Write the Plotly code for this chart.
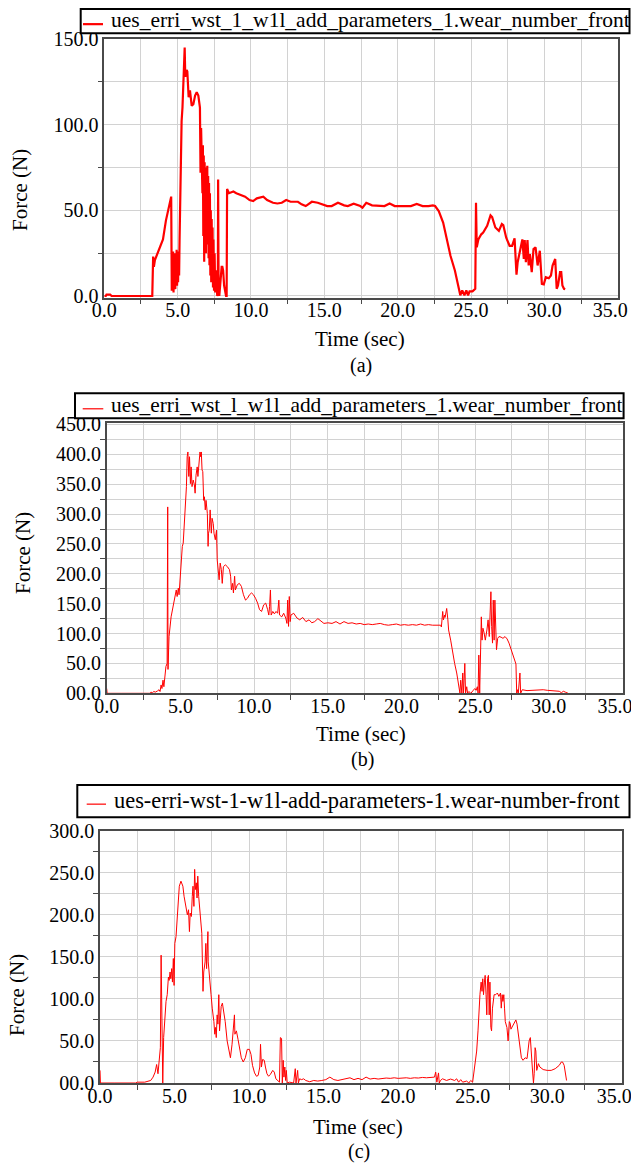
import plotly.graph_objects as go

W, H = 631, 1165
FONT = "Liberation Serif"
RED = "#ff0000"
GRID = "#d2d2d2"
AXIS = "#4a4a4a"

# ---------------- data: panel (a) ----------------
a_time = [0.0, 0.1, 0.15, 0.4, 0.5, 1.5, 2.2, 2.5, 3.27, 3.33, 3.38, 3.45, 3.6, 3.8, 4.0, 4.2, 4.4, 4.5, 4.56,
          4.6, 4.63, 4.66, 4.69, 4.72, 4.75, 4.78, 4.81, 4.84, 4.87, 4.9, 4.93, 4.96, 5.0, 5.03, 5.06, 5.1, 5.13,
          5.16, 5.2, 5.27, 5.33, 5.39, 5.44, 5.48, 5.52, 5.57, 5.61, 5.66, 5.7, 5.75, 5.84, 5.9, 5.96, 6.07, 6.19,
          6.3, 6.41, 6.52, 6.56, 6.6, 6.63, 6.66, 6.69, 6.72, 6.75, 6.78, 6.81, 6.84, 6.87, 6.9, 6.93, 6.96,
          6.99, 7.02, 7.05, 7.08, 7.11, 7.14, 7.17, 7.2, 7.23, 7.26, 7.29, 7.32, 7.35, 7.38, 7.41, 7.44, 7.48,
          7.52, 7.56, 7.6, 7.65, 7.7, 7.74, 7.76, 7.79, 7.84, 7.92, 8.0, 8.05, 8.1,
          8.17, 8.24, 8.3, 8.34, 8.37, 8.5, 8.8, 9.0, 9.3, 9.6, 9.9, 10.15, 10.4, 10.84, 11.1, 11.5, 11.8, 12.1,
          12.4, 12.7, 13.2, 13.45, 13.73, 14.15, 14.55, 14.8, 15.2, 15.5, 15.93, 16.35, 16.6, 17.0, 17.45, 17.6,
          17.86, 18.25, 18.7, 19.1, 19.45, 19.8, 20.3, 20.9, 21.3, 21.7, 22.1, 22.4, 22.55, 22.8, 23.1, 23.36,
          23.6, 23.9, 24.13, 24.27, 24.4, 24.55, 24.68, 24.8, 24.9, 25.1, 25.29, 25.34, 25.39, 25.5, 25.7, 25.83,
          26.1, 26.33, 26.44, 26.66, 26.9, 27.1, 27.2, 27.4, 27.63, 27.8, 27.97, 28.1, 28.18, 28.37, 28.5, 28.6,
          28.66, 28.74, 28.85, 28.93, 29.01, 29.14, 29.26, 29.4, 29.54, 29.69, 29.83, 29.96, 30.1, 30.3, 30.45,
          30.56, 30.74, 30.84, 30.93, 31.07, 31.15, 31.23, 31.34, 31.42]
a_force = [0, 0, 0.8, 0.8, 0, 0, 0.3, 0, 0, 23, 17, 21, 24, 28, 33, 44, 52, 56, 58,
           3, 22, 5, 26, 2, 20, 8, 25, 4, 24, 10, 27, 6, 22, 8, 26, 12, 32,
           52, 75, 102, 110, 122, 135, 145, 128, 131, 132, 131, 126, 116, 120, 114, 111, 112, 117,
           119, 117, 110, 72, 98, 80, 92, 60, 88, 35, 82, 20, 78, 30, 75, 25, 74,
           40, 76, 30, 70, 22, 66, 18, 60, 12, 50, 8, 45, 10, 40, 5, 33, 3,
           25, 2, 15, 0, 0, 2, 68, 6, 0, 10, 17, 17, 15,
           6, 2, 0, 0, 62.5, 60, 61, 60, 59, 58, 56, 55.4, 57, 58, 56, 54.4, 54, 54.4,
           56, 55, 55, 53.5, 52.5, 55, 54.4, 53.5, 52.5, 52.5, 54.4, 52.9, 52.5, 53.9, 52.5, 51.5,
           54.4, 52.9, 52.5, 52.5, 54, 52.5, 52.5, 52.5, 53.7, 52.5, 52.5, 52.9, 52.5, 49.6, 42.9, 33,
           23.5, 14.9, 6, 0.4, 3.3, 0.4, 3.3, 0.4, 2.7, 2.7, 4.2, 54.4, 28.4, 33, 36, 37,
           41, 47, 46, 40, 38, 42, 41.3, 34, 29.3, 29.3, 33.6, 12.4, 19.7, 27.4, 33, 21.6,
           32.6, 19.7, 32.6, 17.8, 24.5, 13.9, 27.4, 28.4, 17.8, 26.4, 7.1, 6.8, 11, 10.4, 12,
           17.8, 21.6, 4.2, 6.2, 13.9, 13.9, 6.2, 4.2, 3.9]

# ---------------- data: panel (b) ----------------
b_time = [0.0, 0.03, 1.0, 2.5, 2.95, 3.0, 3.1, 3.2, 3.3, 3.45, 3.55, 3.62, 3.69, 3.75, 3.82, 3.88, 3.96, 4.02,
          4.1, 4.14, 4.16, 4.23, 4.37, 4.5, 4.64, 4.72, 4.78, 4.86, 4.91, 4.97, 5.05, 5.13, 5.19, 5.27, 5.32,
          5.41, 5.46, 5.51, 5.57, 5.62, 5.68, 5.73, 5.79, 5.87, 5.95, 6.0, 6.06, 6.14, 6.19, 6.28, 6.33, 6.38,
          6.42, 6.47, 6.52, 6.58, 6.63, 6.69, 6.74, 6.83, 6.88, 6.91, 6.96, 7.02, 7.1, 7.15, 7.23, 7.28, 7.37,
          7.45, 7.5, 7.56, 7.63, 7.7, 7.78, 7.84, 7.92, 8.05, 8.19, 8.33, 8.41, 8.46, 8.54, 8.6, 8.68, 8.73,
          8.87, 9.0, 9.14, 9.28, 9.42, 9.55, 9.69, 9.83, 9.96, 10.1, 10.24, 10.37, 10.51, 10.65, 10.79, 10.92,
          11.0, 11.05, 11.11, 11.16, 11.27, 11.38, 11.49, 11.6, 11.68, 11.73, 11.88, 12.01, 12.15, 12.23, 12.28,
          12.34, 12.39, 12.45, 12.5, 12.69, 12.91, 13.1, 13.3, 13.52, 13.73, 13.92, 14.11, 14.33, 14.55, 14.74,
          15.01, 15.29, 15.56, 15.83, 16.1, 16.38, 16.65, 16.93, 17.2, 17.47, 17.75, 18.02, 18.29, 18.56, 18.84,
          19.11, 19.38, 19.66, 19.93, 20.2, 20.47, 20.75, 21.02, 21.3, 21.57, 21.84, 22.11, 22.39, 22.66, 22.71,
          22.8, 22.85, 22.93, 22.96, 23.07, 23.15, 23.2, 23.34, 23.47, 23.61, 23.75, 23.88, 23.97, 24.02, 24.1,
          24.16, 24.21, 24.3, 24.35, 24.43, 24.49, 24.57, 24.71, 24.84, 24.98, 25.07, 25.15, 25.2, 25.25, 25.31,
          25.36, 25.42, 25.47, 25.53, 25.61, 25.69, 25.8, 25.88, 25.96, 26.02, 26.07, 26.12, 26.18, 26.23, 26.29,
          26.34, 26.4, 26.45, 26.53, 26.62, 26.76, 26.89, 27.03, 27.17, 27.3, 27.44, 27.57, 27.71, 27.77, 27.82,
          27.88, 27.93, 28.04, 28.09, 28.2, 28.52, 28.8, 29.07, 29.35, 29.62, 29.89, 30.17, 30.44, 30.71, 30.85,
          30.99, 31.12, 31.26, 31.31]
b_force = [8, 0, 0, 0, 0, 2, 1, 3, 2, 4, 6, 3, 14, 8, 22, 11, 33, 45,
           50, 312, 40, 95, 128, 145, 159, 173, 162, 176, 165, 184, 223, 246, 251, 284, 323,
           346, 396, 404, 363, 396, 351, 379, 346, 357, 349, 335, 365, 379, 363, 396, 404, 396,
           404, 374, 371, 323, 329, 307, 323, 301, 246, 268, 273, 307, 268, 293, 284, 268, 257,
           273, 223, 212, 190, 218, 207, 184, 212, 215, 212, 207, 196, 173, 184, 168, 196, 173,
           182, 184, 179, 165, 156, 159, 165, 168, 165, 159, 151, 140, 137, 148, 151, 140,
           131, 145, 173, 131, 137, 133, 137, 134, 156, 131, 128, 134, 126, 117, 156,
           112, 162, 120, 131, 134, 126, 123, 127, 120, 123, 118, 120, 125, 120, 117,
           118, 117, 120, 116, 120, 117, 118, 116, 117, 115, 116, 115, 116, 117, 115,
           114, 115, 116, 114, 115, 114, 115, 114, 116, 114, 115, 114, 114, 114, 111,
           137, 123, 131, 127, 142, 123, 106, 89, 67, 50, 34, 17, 0, 22, 0,
           34, 0, 50, 0, 11, 0, 3, 0, 4, 8, 5, 11, 0, 64, 0,
           89, 128, 89, 109, 101, 89, 106, 123, 95, 156, 170, 112, 84, 156, 89,
           156, 84, 73, 92, 95, 94, 92, 95, 91, 84, 73, 61, 50, 49, 0,
           6, 0, 34, 0, 6, 4.5, 5, 6, 6.7, 6, 5, 4.5, 4, 3.4, 1,
           3.4, 2, 1, 0]

# ---------------- data: panel (c) ----------------
c_time = [0.0, 0.03, 1.0, 2.4, 2.5, 3.0, 3.4, 3.56, 3.7, 3.8, 3.89, 3.97, 4.05, 4.1, 4.15, 4.21, 4.27, 4.35,
          4.43, 4.51, 4.59, 4.64, 4.7, 4.75, 4.81, 4.86, 4.92, 4.97, 5.02, 5.1, 5.18, 5.24, 5.32, 5.43, 5.56,
          5.64, 5.75, 5.86, 5.94, 6.0, 6.05, 6.13, 6.19, 6.24, 6.3, 6.35, 6.4, 6.46, 6.51, 6.56, 6.62, 6.67,
          6.75, 6.83, 6.91, 6.96, 7.05, 7.1, 7.15, 7.2, 7.24, 7.26, 7.32, 7.37, 7.45, 7.53, 7.59, 7.64, 7.7,
          7.75, 7.8, 7.86, 7.91, 7.97, 8.02, 8.07, 8.13, 8.21, 8.29, 8.4, 8.53, 8.67, 8.75, 8.86, 8.94, 9.02,
          9.05, 9.15, 9.26, 9.34, 9.48, 9.61, 9.75, 9.88, 10.02, 10.13, 10.23, 10.37, 10.5, 10.61, 10.72, 10.77,
          10.83, 10.91, 11.02, 11.1, 11.2, 11.31, 11.42, 11.59, 11.69, 11.8, 11.91, 12.04, 12.1, 12.18, 12.23,
          12.29, 12.34, 12.4, 12.45, 12.5, 12.56, 12.72, 12.99, 13.1, 13.15, 13.26, 13.31, 13.39, 13.53, 13.66,
          13.8, 14.07, 14.34, 14.61, 14.88, 15.15, 15.42, 15.69, 15.96, 16.23, 16.5, 16.77, 17.04, 17.31, 17.58,
          17.85, 18.12, 18.39, 18.66, 18.93, 19.2, 19.47, 19.74, 20.01, 20.28, 20.55, 20.82, 21.09, 21.36, 21.63,
          21.9, 22.17, 22.44, 22.52, 22.6, 22.71, 22.76, 22.84, 22.98, 23.25, 23.52, 23.79, 23.93, 24.06, 24.2,
          24.33, 24.6, 24.74, 24.87, 25.0, 25.08, 25.19, 25.27, 25.36, 25.41, 25.49, 25.57, 25.63, 25.68, 25.73,
          25.79, 25.84, 25.9, 25.95, 26.0, 26.06, 26.11, 26.16, 26.22, 26.27, 26.33, 26.38, 26.44, 26.55, 26.66,
          26.76, 26.87, 26.92, 26.98, 27.03, 27.09, 27.14, 27.19, 27.3, 27.38, 27.46, 27.52, 27.57, 27.68, 27.79,
          27.9, 27.98, 28.06, 28.17, 28.27, 28.38, 28.52, 28.65, 28.79, 28.87, 28.92, 29.0, 29.08, 29.13, 29.19,
          29.24, 29.3, 29.41, 29.51, 29.62, 29.73, 30.0, 30.27, 30.54, 30.81, 30.95, 31.03, 31.14, 31.25, 31.3]
c_force = [15, 0, 0, 0, 1, 1, 3, 7, 13, 22, 11, 27, 42, 152, 30, 0, 54, 81,
           97, 105, 126, 122, 132, 124, 136, 120, 148, 116, 166, 174, 194, 218, 234, 240, 234,
           222, 210, 200, 206, 180, 202, 198, 222, 234, 210, 254, 230, 238, 220, 246, 222, 210,
           194, 178, 109, 132, 144, 166, 136, 154, 180, 144, 128, 120, 105, 89, 81, 73, 58,
           66, 54, 81, 70, 105, 62, 81, 91, 95, 87, 73, 50, 34, 30, 46, 62, 81,
           58, 62, 52, 42, 30, 25, 30, 40, 40, 34, 21, 12, 8, 9, 19, 46,
           19, 28, 27, 19, 11, 8, 10, 15, 13, 5, 3, 1, 54, 53, 0,
           27, 7, 19, 3, 15, 0, 1, 0, 17, 0, 15, 0, 5, 4, 5,
           3, 1.5, 3, 2.3, 3, 4, 7, 4, 3, 4.3, 4.7, 6.2, 4, 5.5, 4,
           7, 4.7, 5.5, 4.7, 5.5, 5.9, 5.5, 6.2, 5.5, 5.9, 6.2, 5.5, 6.2, 5.9, 6.6,
           6.2, 7, 7, 13, 1, 12, 0, 3, 5, 3, 4.7, 3, 5, 1, 4,
           1, 2.3, 0, 3, 1, 11, 30, 38, 62, 81, 105, 120, 109, 124, 105,
           120, 128, 105, 81, 124, 128, 81, 120, 66, 62, 89, 97, 105, 105, 107,
           103, 107, 89, 105, 97, 105, 89, 73, 66, 50, 73, 71, 64, 68, 71,
           75, 70, 58, 42, 30, 27, 30, 29, 50, 54, 34, 19, 0, 11, 42,
           38, 15, 23, 19, 18, 16, 15, 15, 17, 21, 25, 25, 21, 11, 3]

# ---------------- tick labels ----------------
x_ticks = [0, 5, 10, 15, 20, 25, 30, 35]
# the last label is padded so it stays inside the page
x_tick_text = ["0.0", "5.0", "10.0", "15.0", "20.0", "25.0", "30.0", "35.0\u00a0\u00a0\u00a0"]
x_minor = [2.5, 7.5, 12.5, 17.5, 22.5, 27.5, 32.5]

a_y_ticks = [0, 50, 100, 150]
a_y_text = ["0.0", "50.0", "100.0", "150.0"]
a_y_minor = [25, 75, 125]

b_y_ticks = [0, 50, 100, 150, 200, 250, 300, 350, 400, 450]
b_y_text = ["00.0", "50.0", "100.0", "150.0", "200.0", "250.0", "300.0", "350.0", "400.0", "450.0"]
b_y_minor = [25, 75, 125, 175, 225, 275, 325, 375, 425]

c_y_ticks = [0, 50, 100, 150, 200, 250, 300]
c_y_text = ["00.0", "50.0", "100.0", "150.0", "200.0", "250.0", "300.0"]
c_y_minor = [25, 75, 125, 175, 225, 275]

names = ["ues_erri_wst_1_w1l_add_parameters_1.wear_number_front",
         "ues_erri_wst_l_w1l_add_parameters_1.wear_number_front",
         "ues-erri-wst-1-w1l-add-parameters-1.wear-number-front"]
captions = ["(a)", "(b)", "(c)"]


def px_x(v):
    return v / W


def px_y(v):
    return 1 - v / H


# panel boxes in pixels: left, right, top, bottom
boxes = [(104.3, 617.7, 39.0, 297.7),
         (106.7, 622.5, 423.3, 693.3),
         (100.0, 621.7, 830.7, 1083.0)]
y_ranges = [[-1, 150], [0, 452], [0, 300]]
y_ticks = [(a_y_ticks, a_y_text, a_y_minor), (b_y_ticks, b_y_text, b_y_minor), (c_y_ticks, c_y_text, c_y_minor)]
series = [(a_time, a_force, 2.2), (b_time, b_force, 1.0), (c_time, c_force, 1.0)]

fig = go.Figure()
axis_ids = ["", "2", "3"]

for i in range(3):
    t, f, lw = series[i]
    fig.add_trace(go.Scatter(
        x=t, y=f, mode="lines", name=names[i],
        line=dict(color=RED, width=lw),
        xaxis="x" + axis_ids[i], yaxis="y" + axis_ids[i],
        showlegend=False,
    ))

layout = dict(
    width=W, height=H,
    margin=dict(l=0, r=0, t=0, b=0, autoexpand=False),
    paper_bgcolor="white", plot_bgcolor="white",
    font=dict(family=FONT, size=20, color="black"),
    annotations=[], shapes=[],
)

for i in range(3):
    l, r, top, bot = boxes[i]
    yt, ytext, ymin = y_ticks[i]
    common = dict(showgrid=True, gridcolor=GRID, gridwidth=1, zeroline=False,
                  showline=True, linecolor=AXIS, linewidth=1.5, mirror=True,
                  ticks="", ticklabeloverflow="allow",
                  tickfont=dict(family=FONT, size=20, color="black"))
    layout["xaxis" + axis_ids[i]] = dict(
        domain=[px_x(l), px_x(r)], range=[0, 35], anchor="y" + axis_ids[i],
        tickmode="array", tickvals=x_ticks, ticktext=x_tick_text, ticklabelstandoff=-6,
        minor=dict(tickvals=x_minor, ticks="outside", ticklen=5, tickcolor=AXIS,
                   showgrid=True, gridcolor=GRID, gridwidth=1),
        **common,
    )
    layout["yaxis" + axis_ids[i]] = dict(
        domain=[px_y(bot), px_y(top)], range=y_ranges[i], anchor="x" + axis_ids[i],
        tickmode="array", tickvals=yt, ticktext=ytext,
        minor=dict(tickvals=ymin, ticks="outside", ticklen=5, tickcolor=AXIS,
                   showgrid=True, gridcolor=GRID, gridwidth=1),
        **common,
    )

# legend boxes: (left, right, top, bottom, line x0, line x1, text x, font size, line width)
legend_boxes = [
    (80.7, 629.5, 9.0, 33.3, 83.0, 103.0, 108.5, 21.5, 2.2),
    (75.0, 623.6, 393.3, 418.3, 82.7, 103.3, 108.5, 21.4, 1.2),
    (77.3, 629.5, 785.0, 817.3, 86.7, 106.0, 112.0, 22.4, 1.2),
]
for i in range(3):
    l, r, top, bot, lx0, lx1, tx, fs, lw = legend_boxes[i]
    mid = (top + bot) / 2
    layout["shapes"] += [
        dict(type="rect", xref="paper", yref="paper", x0=px_x(l), x1=px_x(r), y0=px_y(bot), y1=px_y(top),
             line=dict(color="black", width=2), fillcolor="white", layer="above"),
        dict(type="line", xref="paper", yref="paper", x0=px_x(lx0), x1=px_x(lx1),
             y0=px_y(mid + 3), y1=px_y(mid + 3), line=dict(color=RED, width=lw), layer="above"),
    ]
    layout["annotations"].append(
        dict(text=names[i], x=px_x(tx), y=px_y(mid - 1), xref="paper", yref="paper",
             xanchor="left", yanchor="middle", showarrow=False,
             font=dict(family=FONT, size=fs, color="black"))
    )

# axis titles and captions (pixel centres)
title_pos = [
    # (force_x, force_y, time_x, time_y, cap_x, cap_y)
    (20, 190, 360, 339, 361, 365),
    (23, 553, 361, 734, 362, 759),
    (17, 995, 358, 1127, 359, 1151),
]
for i in range(3):
    fx, fy, tx, ty, cx, cy = title_pos[i]
    layout["annotations"] += [
        dict(text="Force (N)", x=px_x(fx), y=px_y(fy), xref="paper", yref="paper",
             xanchor="center", yanchor="middle",
             showarrow=False, textangle=-90, font=dict(family=FONT, size=21)),
        dict(text="Time (sec)", x=px_x(tx), y=px_y(ty), xref="paper", yref="paper",
             xanchor="center", yanchor="middle",
             showarrow=False, font=dict(family=FONT, size=21)),
        dict(text=captions[i], x=px_x(cx), y=px_y(cy), xref="paper", yref="paper",
             xanchor="center", yanchor="middle",
             showarrow=False, font=dict(family=FONT, size=20)),
    ]

fig.update_layout(**layout)
fig.write_html("out.html")
